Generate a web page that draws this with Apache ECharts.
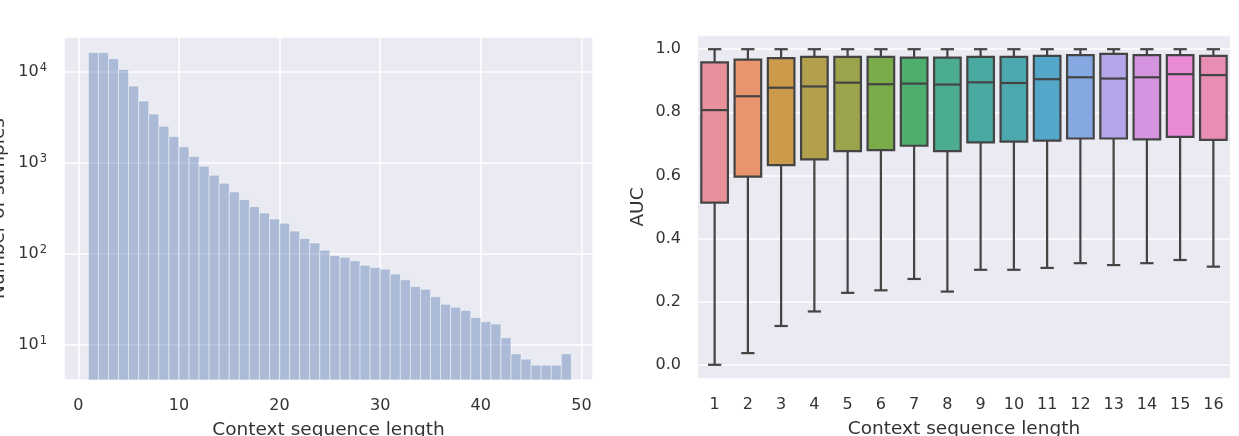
<!DOCTYPE html>
<html>
<head>
<meta charset="utf-8">
<script src="https://cdn.jsdelivr.net/npm/echarts@6/dist/echarts.min.js"></script>
<style>
  html, body { margin: 0; padding: 0; background: #fff; }
  #chart { width: 1239px; height: 436px; }
</style>
</head>
<body>
<div id="chart"></div>
<script>
// left panel: histogram of context lengths, one bin per length [len, len + 1)
const binStarts = [
  1, 2, 3, 4, 5, 6, 7, 8, 9, 10, 11, 12, 13, 14, 15, 16,
  17, 18, 19, 20, 21, 22, 23, 24, 25, 26, 27, 28, 29, 30, 31, 32,
  33, 34, 35, 36, 37, 38, 39, 40, 41, 42, 43, 44, 45, 46, 47, 48
];
const sampleCounts = [
  16200, 16200, 13900, 10600, 6970, 4770, 3430, 2520, 1940, 1500, 1170, 916, 730, 596, 478, 394,
  330, 281, 242, 217, 178, 148, 132, 110, 96, 92, 84, 75, 71, 68, 60, 52,
  44, 41, 34, 28, 26, 24, 20, 18, 17, 12, 8, 7, 6, 6, 6, 8
];

// right panel: AUC distribution per context length
const boxCategories = ['1', '2', '3', '4', '5', '6', '7', '8', '9', '10', '11', '12', '13', '14', '15', '16'];
const aucLow    = [0.000, 0.037, 0.123, 0.169, 0.228, 0.236, 0.272, 0.232, 0.301, 0.301, 0.307, 0.322, 0.316, 0.322, 0.332, 0.311];
const aucQ1     = [0.514, 0.596, 0.633, 0.651, 0.677, 0.680, 0.694, 0.677, 0.705, 0.707, 0.710, 0.717, 0.717, 0.714, 0.722, 0.713];
const aucMedian = [0.807, 0.851, 0.878, 0.882, 0.894, 0.889, 0.891, 0.888, 0.895, 0.893, 0.905, 0.911, 0.907, 0.911, 0.921, 0.918];
const aucQ3     = [0.958, 0.967, 0.972, 0.976, 0.976, 0.976, 0.973, 0.973, 0.976, 0.976, 0.979, 0.981, 0.985, 0.981, 0.981, 0.979];
const aucHigh   = [1, 1, 1, 1, 1, 1, 1, 1, 1, 1, 1, 1, 1, 1, 1, 1];
const boxColors = [
  '#e8919c', '#e8946f', '#cb9a4b', '#b2a04c', '#9ba34b', '#7aab49', '#4dae6d', '#4cac8f',
  '#4aa9a0', '#4ca7ae', '#53a8ca', '#84a8e2', '#b3a5e7', '#d494e0', '#e88ad4', '#e88db3'
];

const countMin = 4.13;
const countMax = 24040;
const textColor = '#333';
const lineColor = '#444';
const font = 'DejaVu Sans';

const chart = echarts.init(document.getElementById('chart'));

function renderBin(params, api) {
  const topLeft = api.coord([api.value(0), api.value(2)]);
  const bottomRight = api.coord([api.value(1), countMin]);
  const rect = echarts.graphic.clipRectByRect(
    { x: topLeft[0], y: topLeft[1], width: bottomRight[0] - topLeft[0], height: bottomRight[1] - topLeft[1] },
    { x: params.coordSys.x, y: params.coordSys.y, width: params.coordSys.width, height: params.coordSys.height }
  );
  return rect && {
    type: 'rect',
    shape: rect,
    style: { fill: 'rgba(76,114,176,0.4)', stroke: 'rgba(255,255,255,0.45)', lineWidth: 1 }
  };
}

function renderBox(params, api) {
  const i = api.value(0);
  const band = api.size([1, 0])[0];
  const half = band * 0.4;
  const capHalf = band * 0.2;
  const cx = api.coord([i, 0])[0];
  const y = v => api.coord([i, v])[1];
  const yLow = y(api.value(1)), yQ1 = y(api.value(2)), yMed = y(api.value(3));
  const yQ3 = y(api.value(4)), yHigh = y(api.value(5));
  const line = { stroke: lineColor, lineWidth: 2.2 };
  return {
    type: 'group',
    children: [
      { type: 'line', shape: { x1: cx, y1: yQ1, x2: cx, y2: yLow }, style: line },
      { type: 'line', shape: { x1: cx - capHalf, y1: yLow, x2: cx + capHalf, y2: yLow }, style: line },
      { type: 'line', shape: { x1: cx, y1: yQ3, x2: cx, y2: yHigh }, style: line },
      { type: 'line', shape: { x1: cx - capHalf, y1: yHigh, x2: cx + capHalf, y2: yHigh }, style: line },
      {
        type: 'rect',
        shape: { x: cx - half, y: yQ3, width: half * 2, height: yQ1 - yQ3 },
        style: { fill: boxColors[params.dataIndex], stroke: lineColor, lineWidth: 2.2 }
      },
      { type: 'line', shape: { x1: cx - half, y1: yMed, x2: cx + half, y2: yMed }, style: line }
    ]
  };
}

const tickLabel = { color: textColor, fontSize: 16, fontFamily: font };
const nameStyle = { color: textColor, fontSize: 18.5, fontFamily: font };
const whiteGrid = { show: true, lineStyle: { color: '#fff', width: 1.5 } };

const option = {
  backgroundColor: '#fff',
  animation: false,
  grid: [
    { left: 64, right: 646, top: 37, bottom: 56, outerBoundsMode: 'none', containLabel: false,
      show: true, backgroundColor: '#eaeaf2', borderWidth: 0 },
    { left: 698, right: 9, top: 35, bottom: 57, outerBoundsMode: 'none', containLabel: false,
      show: true, backgroundColor: '#eaeaf2', borderWidth: 0 }
  ],
  xAxis: [
    {
      gridIndex: 0, type: 'value', min: -1.42, max: 51.15, splitNumber: 5,
      axisLine: { show: false }, axisTick: { show: false },
      axisLabel: Object.assign({ margin: 18, showMinLabel: false, showMaxLabel: false }, tickLabel),
      splitLine: whiteGrid,
      name: 'Context sequence length', nameLocation: 'middle', nameGap: 41, nameTextStyle: nameStyle
    },
    {
      gridIndex: 1, type: 'category', data: boxCategories,
      axisLine: { show: false }, axisTick: { show: false },
      axisLabel: Object.assign({ margin: 18 }, tickLabel),
      splitLine: { show: false },
      name: 'Context sequence length', nameLocation: 'middle', nameGap: 41, nameTextStyle: nameStyle
    }
  ],
  yAxis: [
    {
      gridIndex: 0, type: 'log', logBase: 10, min: countMin, max: countMax,
      axisLine: { show: false }, axisTick: { show: false },
      axisLabel: {
        margin: 17, showMinLabel: false, showMaxLabel: false,
        formatter: v => '{b|10}{s|' + Math.round(Math.log10(v)) + '}',
        rich: {
          b: { color: textColor, fontSize: 16, fontFamily: font },
          s: { color: textColor, fontSize: 11.5, fontFamily: font, verticalAlign: 'top', padding: [0, 0, 8, 1] }
        }
      },
      splitLine: whiteGrid,
      name: 'Number of samples', nameLocation: 'middle', nameGap: 55, nameTextStyle: nameStyle
    },
    {
      gridIndex: 1, type: 'value', min: -0.045, max: 1.045, splitNumber: 5,
      axisLine: { show: false }, axisTick: { show: false },
      axisLabel: Object.assign({
        margin: 17, showMinLabel: false, showMaxLabel: false,
        formatter: v => v.toFixed(1)
      }, tickLabel),
      splitLine: whiteGrid,
      name: 'AUC', nameLocation: 'middle', nameGap: 50, nameTextStyle: nameStyle
    }
  ],
  series: [
    {
      type: 'custom',
      xAxisIndex: 0, yAxisIndex: 0,
      renderItem: renderBin,
      encode: { x: [0, 1], y: 2 },
      data: binStarts.map((s, i) => [s, s + 1, sampleCounts[i]])
    },
    {
      type: 'custom',
      xAxisIndex: 1, yAxisIndex: 1,
      renderItem: renderBox,
      encode: { x: 0, y: [1, 2, 3, 4, 5] },
      data: boxCategories.map((c, i) => [i, aucLow[i], aucQ1[i], aucMedian[i], aucQ3[i], aucHigh[i]])
    }
  ]
};

chart.setOption(option);
window.addEventListener('resize', () => chart.resize());
</script>
</body>
</html>
